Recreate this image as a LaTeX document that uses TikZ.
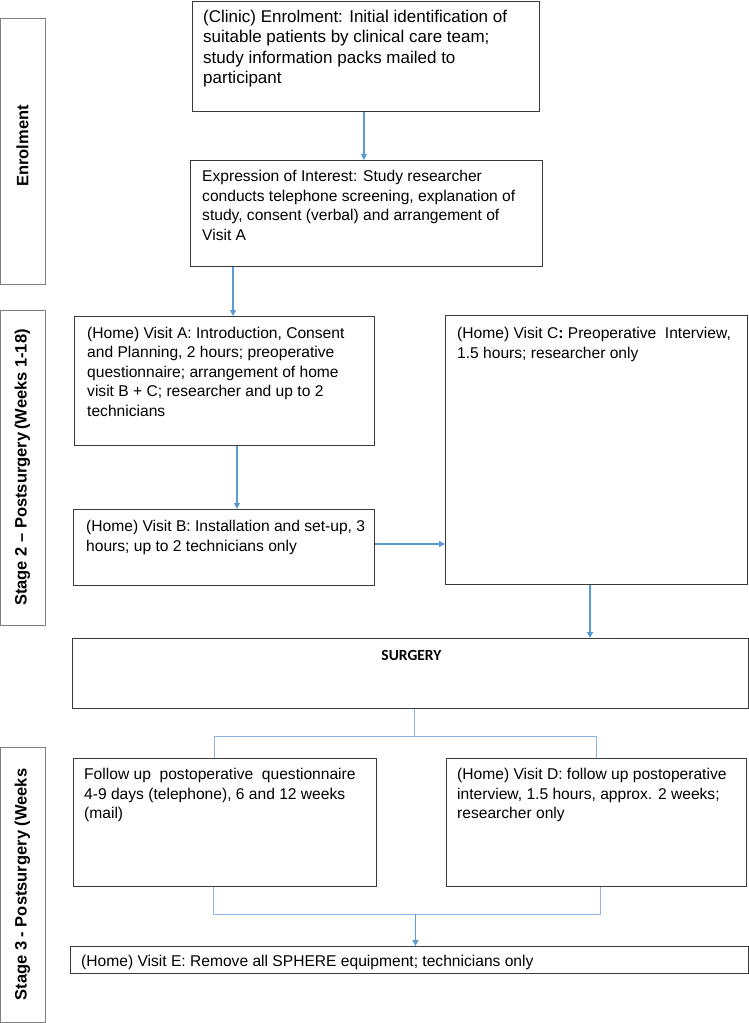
\documentclass[tikz,border=0pt]{standalone}
\usepackage{fontspec}
\setmainfont{Liberation Sans}
\newfontfamily\calib{Carlito}
\usetikzlibrary{arrows.meta,calc}
\definecolor{boxc}{HTML}{3A3A3A}
\definecolor{sidec}{HTML}{808080}
\definecolor{arrc}{HTML}{5B9BD5}
\definecolor{brc}{HTML}{8DB4E2}
\newcommand\mybox[8]{%
  \node[box, minimum width=#4pt, minimum height=#5pt] (#1) at (#2,-#3) {};
  \node[txt] (#1t) at ([shift={(#6pt,-#7pt)}]#1.north west) {#8};}
\begin{document}
\begin{tikzpicture}[x=1pt,y=1pt,
  box/.style={draw=boxc, line width=0.9pt, anchor=north west, inner sep=0pt},
  txt/.style={anchor=north west, align=left, inner sep=0pt, font=\fontsize{15.6}{19.5}\selectfont},
  side/.style={draw=sidec, line width=0.8pt, rotate=90, inner sep=0pt, minimum height=45pt, font=\bfseries\fontsize{16.5}{20}\selectfont},
  arr/.style={draw=arrc, line width=1.2pt, -{Triangle[length=6pt,width=6pt]}},
  branch/.style={draw=brc, line width=1pt}]
\useasboundingbox (0,0) rectangle (749,-1023);

% side stage boxes
\node[side, minimum width=266pt] (sEnrol) at (22.5,-151) {\hspace*{10pt}Enrolment};
\node[side, minimum width=315pt] (sStage2) at (22.5,-467.5) {Stage 2 – Postsurgery\,(Weeks 1-18)};
\node[side, minimum width=275pt] (sStage3) at (22.5,-884.5) {Stage 3 - Postsurgery (Weeks};

% main boxes
\node[box, minimum width=347pt, minimum height=110pt] (clinic) at (192,-1) {};
\node[txt, font=\fontsize{17}{20.3}\selectfont] (clinict) at ([shift={(11pt,-9pt)}]clinic.north west)
  {(Clinic) Enrolment: Initial identification of\\suitable patients by clinical care team;\\study information packs mailed to\\participant};

\mybox{expr}{190}{160}{352}{106}{12}{10}{Expression of Interest: Study researcher\\conducts telephone screening, explanation of\\study, consent (verbal) and arrangement of\\Visit A}

\mybox{visA}{74}{316}{300}{129}{13}{10.5}{(Home) Visit A: Introduction, Consent\\and Planning, 2 hours; preoperative\\questionnaire; arrangement of home\\visit B + C; researcher and up to 2\\technicians}

\mybox{visB}{73}{509}{301}{76}{13}{11}{(Home) Visit B: Installation and set-up, 3\\hours; up to 2 technicians only}

\mybox{visC}{445}{315}{302}{269}{12}{12}{(Home) Visit C\textbf{:} Preoperative\ \ Interview,\\1.5 hours; researcher only}

\node[box, minimum width=676pt, minimum height=70pt] (surgery) at (72,-638) {};
\node[font=\calib\bfseries\fontsize{15.5}{17}\selectfont, inner sep=0pt] (surgeryt) at ([shift={(1pt,-17pt)}]surgery.north) {SURGERY};

\mybox{follow}{73}{758}{303}{128}{11}{10}{Follow up\ \ postoperative\ \ questionnaire\\4-9 days (telephone), 6 and 12 weeks\\(mail)}

\mybox{visD}{446}{758}{300}{128}{11}{10}{(Home) Visit D: follow up postoperative\\interview, 1.5 hours, approx. 2 weeks;\\researcher only}

\mybox{visE}{70}{946}{678}{27}{11}{9}{(Home) Visit E: Remove all SPHERE equipment; technicians only}

% connectors
\draw[arr] ([xshift=-2pt]clinic.south) -- ([xshift=-2pt]clinic.south |- expr.north);
\draw[arr] ([xshift=43pt]expr.south west) -- ([xshift=43pt]expr.south west |- visA.north);
\draw[arr] ([xshift=163pt]visA.south west) -- ([xshift=163pt]visA.south west |- visB.north);
\draw[arr] ([yshift=-35pt]visB.north east) -- ([yshift=-35pt]visB.north east -| visC.west);
\draw[arr] ([xshift=145pt]visC.south west) -- ([xshift=145pt]visC.south west |- surgery.north);

\draw[branch] ([xshift=4pt]surgery.south) -- ++(0,-28) coordinate (split);
\draw[branch] ([xshift=-10pt]follow.north) |- (split) -| (visD.north);

\coordinate (merge) at ([xshift=6pt]visE.north |- 0,-914);
\draw[branch] ([xshift=-11pt]follow.south) |- (merge) -| ([xshift=4pt]visD.south);
\draw[arr] (merge) -- (merge |- visE.north);
\end{tikzpicture}
\end{document}
